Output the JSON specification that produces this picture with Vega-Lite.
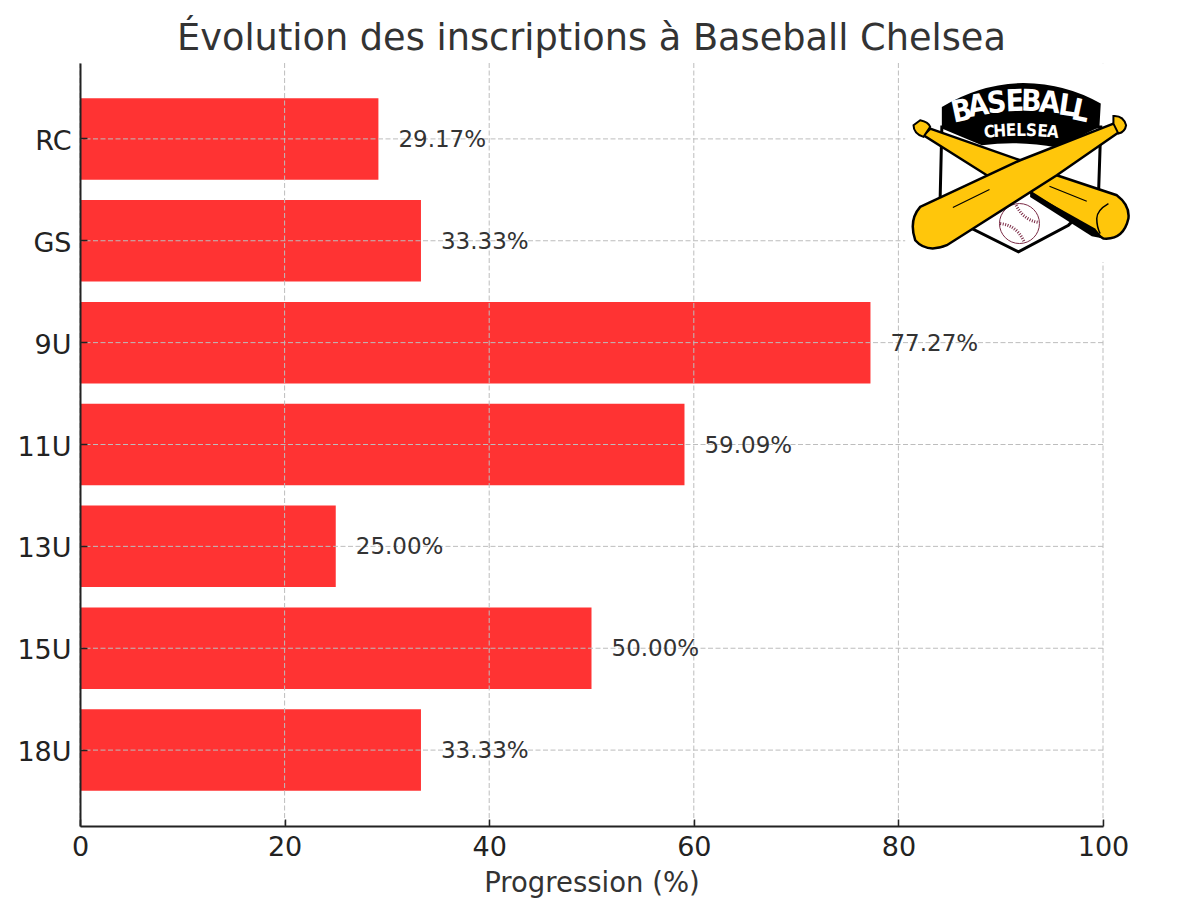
{
  "$schema": "https://vega.github.io/schema/vega-lite/v6.json",
  "width": 1023,
  "height": 763,
  "autosize": "none",
  "padding": {"left": 80, "top": 63, "right": 97, "bottom": 88},
  "background": "white",
  "title": {
    "text": "Évolution des inscriptions à Baseball Chelsea",
    "font": "DejaVu Sans",
    "fontSize": 36.7,
    "fontWeight": "normal",
    "color": "#333333",
    "anchor": "middle",
    "offset": 5
  },
  "config": {"view": {"stroke": null}},
  "datasets": {
    "bars": [
      {"cat": "RC", "value": 29.17, "label": "29.17%"},
      {"cat": "GS", "value": 33.33, "label": "33.33%"},
      {"cat": "9U", "value": 77.27, "label": "77.27%"},
      {"cat": "11U", "value": 59.09, "label": "59.09%"},
      {"cat": "13U", "value": 25.0, "label": "25.00%"},
      {"cat": "15U", "value": 50.0, "label": "50.00%"},
      {"cat": "18U", "value": 33.33, "label": "33.33%"}
    ],
    "ticks": [{"x": 0}, {"x": 20}, {"x": 40}, {"x": 60}, {"x": 80}, {"x": 100}],
    "logo": [{"x": 91.9, "y": 86.6}],
    "letters": [
      {"t": "B", "x": 86.2, "y": 93.6, "a": -12, "w": "big"},
      {"t": "A", "x": 87.8, "y": 94.3, "a": -9, "w": "big"},
      {"t": "S", "x": 89.6, "y": 94.7, "a": -6, "w": "big"},
      {"t": "E", "x": 91.4, "y": 94.9, "a": -2, "w": "big"},
      {"t": "B", "x": 93.0, "y": 94.9, "a": 2, "w": "big"},
      {"t": "A", "x": 94.8, "y": 94.7, "a": 5, "w": "big"},
      {"t": "L", "x": 96.5, "y": 94.3, "a": 8, "w": "big"},
      {"t": "L", "x": 97.8, "y": 93.6, "a": 12, "w": "big"},
      {"t": "C", "x": 88.9, "y": 90.9, "a": -6, "w": "small"},
      {"t": "H", "x": 89.9, "y": 91.0, "a": -4, "w": "small"},
      {"t": "E", "x": 91.0, "y": 91.1, "a": -2, "w": "small"},
      {"t": "L", "x": 92.0, "y": 91.1, "a": 0, "w": "small"},
      {"t": "S", "x": 93.0, "y": 91.1, "a": 2, "w": "small"},
      {"t": "E", "x": 94.1, "y": 91.0, "a": 4, "w": "small"},
      {"t": "A", "x": 95.1, "y": 90.9, "a": 6, "w": "small"}
    ]
  },
  "resolve": {"scale": {"y": "independent"}},
  "layer": [
    {
      "layer": [
        {
          "data": {"name": "bars"},
          "mark": {"type": "bar", "color": "#ff3333"},
          "encoding": {
            "x": {
              "field": "value",
              "type": "quantitative",
              "title": "Progression (%)",
              "scale": {"domain": [0, 100], "nice": false},
              "axis": {
                "zindex": 1,
                "grid": false,
                "values": [0, 20, 40, 60, 80, 100],
                "domainColor": "#222222",
                "domainWidth": 2,
                "tickColor": "#222222",
                "tickWidth": 1.5,
                "tickSize": -7,
                "labelPadding": 15,
                "labelFont": "DejaVu Sans",
                "labelFontSize": 27,
                "labelColor": "#222222",
                "labelFlush": false,
                "titleFont": "DejaVu Sans",
                "titleFontSize": 27.5,
                "titleFontWeight": "normal",
                "titleColor": "#333333",
                "titlePadding": 9
              }
            },
            "y": {
              "field": "cat",
              "type": "nominal",
              "sort": null,
              "title": null,
              "scale": {"paddingInner": 0.2, "paddingOuter": 0.345},
              "axis": {
                "zindex": 1,
                "grid": false,
                "domainColor": "#222222",
                "domainWidth": 2,
                "tickColor": "#222222",
                "tickWidth": 1.5,
                "tickSize": -7,
                "labelPadding": 16,
                "labelOffset": 3,
                "labelFont": "DejaVu Sans",
                "labelFontSize": 27,
                "labelColor": "#222222"
              }
            }
          }
        },
        {
          "data": {"name": "ticks"},
          "mark": {"type": "rule", "color": "#bdbdbd", "strokeDash": [5, 2.5], "strokeWidth": 1},
          "encoding": {"x": {"field": "x", "type": "quantitative"}}
        },
        {
          "data": {"name": "bars"},
          "mark": {"type": "rule", "color": "#bdbdbd", "strokeDash": [5, 2.5], "strokeWidth": 1},
          "encoding": {"y": {"field": "cat", "type": "nominal", "sort": null}}
        },
        {
          "data": {"name": "bars"},
          "mark": {
            "type": "text",
            "align": "left",
            "baseline": "middle",
            "dx": 20,
            "dy": 1,
            "font": "DejaVu Sans",
            "fontSize": 23,
            "color": "#333333"
          },
          "encoding": {
            "x": {"field": "value", "type": "quantitative"},
            "y": {"field": "cat", "type": "nominal", "sort": null},
            "text": {"field": "label"}
          }
        }
      ]
    },
    {
      "data": {"name": "logo"},
      "encoding": {
        "x": {"field": "x", "type": "quantitative"},
        "y": {"field": "y", "type": "quantitative", "scale": {"domain": [0, 100]}, "axis": null}
      },
      "layer": [
        {"mark": {"type": "point", "size": 0.444, "filled": true, "opacity": 1, "fill": "white", "shape": "M-345 -306 L345 -306 L345 291 L-345 291 Z"}},
        {"mark": {"type": "point", "size": 0.444, "filled": true, "opacity": 1, "fill": "white", "stroke": "black", "strokeWidth": 3, "shape": "M-235 -115 L-240 95 L-145 190 L-5 260 L145 180 L235 95 L242 -115 Z"}},
        {"mark": {"type": "point", "size": 0.444, "filled": true, "opacity": 1, "fill": "black", "shape": "M-235 -175 Q-120 -245 10 -247 Q140 -245 242 -185 L238 -115 L110 -53 Q0 -75 -115 -60 L-235 -110 Z"}},
        {"mark": {"type": "point", "size": 0.444, "filled": true, "opacity": 1, "fill": "white", "stroke": "#7a2a45", "strokeWidth": 1, "shape": "M-62 175 A60 60 0 1 0 58 175 A60 60 0 1 0 -62 175 Z"}},
        {"mark": {"type": "point", "size": 0.444, "filled": false, "opacity": 1, "stroke": "#7a2a45", "strokeWidth": 3, "strokeDash": [1, 1.5], "shape": "M-60 175 Q-10 180 12 230 M-12 120 Q10 165 57 172"}},
        {"mark": {"type": "point", "size": 0.444, "filled": true, "opacity": 1, "fill": "#ffc60b", "stroke": "black", "strokeWidth": 2.5, "shape": "M-270 -110 L0 -15 L110 30 L290 90 Q330 120 325 160 Q310 225 250 220 L30 80 L-100 30 L-290 -90 Z"}},
        {"mark": {"type": "point", "size": 0.444, "filled": true, "opacity": 1, "fill": "black", "shape": "M30 80 L225 190 L250 220 L215 213 L30 95 Z"}},
        {"mark": {"type": "point", "size": 0.444, "filled": false, "opacity": 1, "stroke": "black", "strokeWidth": 1.5, "shape": "M265 115 Q230 135 230 160 Q230 185 240 205"}},
        {"mark": {"type": "point", "size": 0.444, "filled": true, "opacity": 1, "fill": "#ffc60b", "stroke": "black", "strokeWidth": 2, "shape": "M-300 -135 Q-275 -130 -270 -115 L-290 -85 Q-320 -95 -320 -120 Z"}},
        {"mark": {"type": "point", "size": 0.444, "filled": true, "opacity": 1, "fill": "#ffc60b", "stroke": "black", "strokeWidth": 2.5, "shape": "M-300 125 L0 -15 L280 -125 L305 -105 L110 30 L-220 240 Q-280 265 -315 225 Q-335 165 -300 125 Z"}},
        {"mark": {"type": "point", "size": 0.444, "filled": true, "opacity": 1, "fill": "#ffc60b", "stroke": "black", "strokeWidth": 2, "shape": "M280 -148 Q310 -150 318 -120 Q315 -100 295 -95 L280 -125 Z"}},
        {"mark": {"type": "point", "size": 0.444, "filled": false, "opacity": 1, "stroke": "black", "strokeWidth": 1.2, "shape": "M-202 127 L-92 73 M88 63 L200 108"}}
      ]
    },
    {
      "data": {"name": "letters"},
      "mark": {"type": "text", "font": "DejaVu Sans Condensed, Liberation Sans", "fontWeight": "bold", "color": "white", "baseline": "middle", "align": "center"},
      "encoding": {
        "x": {"field": "x", "type": "quantitative"},
        "y": {"field": "y", "type": "quantitative", "scale": {"domain": [0, 100]}, "axis": null},
        "text": {"field": "t"},
        "angle": {"field": "a", "type": "quantitative", "scale": null},
        "size": {"field": "w", "type": "nominal", "scale": {"domain": ["big", "small"], "range": [30, 17]}, "legend": null}
      }
    }
  ]
}
